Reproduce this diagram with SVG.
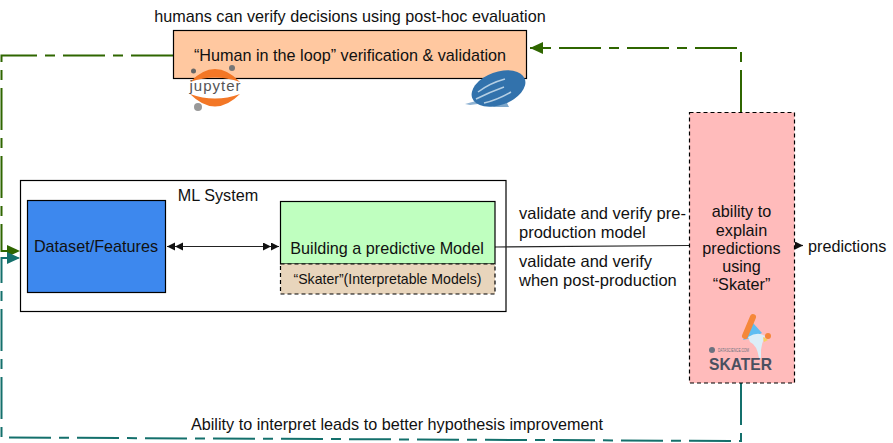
<svg xmlns="http://www.w3.org/2000/svg" width="893" height="443" viewBox="0 0 893 443">
<style>
text{font-family:"Liberation Sans",Arial,sans-serif;fill:#111;font-size:16.2px}
.m{text-anchor:middle}
.v{font-size:16.500px}
.box{stroke:#000;stroke-width:1.2}
.dash{stroke:#000;stroke-width:1.2;stroke-dasharray:4 3}
.g{fill:none;stroke:#2f6600;stroke-width:2;stroke-dasharray:42 8 10 8}
.t{fill:none;stroke:#14706c;stroke-width:2;stroke-dasharray:42 8 10 8}
.k{fill:none;stroke:#222;stroke-width:1.2}
</style>
<defs>
<marker id="ag" markerUnits="userSpaceOnUse" markerWidth="14" markerHeight="12" refX="13" refY="6" orient="auto"><path d="M0 0L13 6L0 12Z" fill="#2f6600"/></marker>
<marker id="at" markerUnits="userSpaceOnUse" markerWidth="14" markerHeight="12" refX="13" refY="6" orient="auto"><path d="M0 0L13 6L0 12Z" fill="#14706c"/></marker>
<marker id="dbl" markerUnits="userSpaceOnUse" markerWidth="18" markerHeight="10" refX="16" refY="4" orient="auto-start-reverse"><path d="M0 0L8 4L0 8ZM8 0L16 4L8 8Z" fill="#111"/></marker>
<marker id="ak" markerUnits="userSpaceOnUse" markerWidth="10" markerHeight="10" refX="8" refY="4" orient="auto"><path d="M0 0L8 4L0 8Z" fill="#111"/></marker>
</defs>
<g id="ml-system"><rect x="20.500" y="180.500" width="485.500" height="131" fill="#fff" class="box"/><text x="218" y="201" class="m">ML System</text></g>
<g id="connectors">
<path d="M173 55.500H1.500V251H20" class="g" marker-end="url(#ag)"/>
<path d="M741 112V48H530" class="g" marker-end="url(#ag)"/>
<path d="M741 383V441L1.500 437.500V258H20" class="t" marker-end="url(#at)"/>
<path d="M167 246.500H279" class="k" marker-start="url(#dbl)" marker-end="url(#dbl)"/>
<path d="M495 247L689 245.500" class="k"/>
<path d="M794 245.500H803" class="k" marker-end="url(#ak)"/>
</g>
<g id="verification"><rect x="173.500" y="30.500" width="353" height="48" fill="#FFC8A0" class="box"/><text x="350" y="61" class="m">“Human in the loop” verification &amp; validation</text></g>
<text x="350" y="22" class="m">humans can verify decisions using post-hoc evaluation</text>
<g id="jupyter-logo">
<path d="M190 82Q215 56 240 82Q215 73 190 82Z" fill="#F37726"/>
<path d="M190 94Q215 119 240 94Q215 103 190 94Z" fill="#F37726"/>
<circle cx="193.500" cy="71" r="2.500" fill="#666"/><circle cx="232" cy="68" r="3" fill="#777"/><circle cx="198" cy="107" r="4" fill="#999"/>
<text x="215.500" y="91" class="m" style="font-size:15px;fill:#555;letter-spacing:1px">jupyter</text>
</g>
<g id="zeppelin-logo">
<path d="M465 104L476 101L478 104L470 105Z" fill="#8fb3d3"/>
<path d="M474 86L480 82L478 90Z" fill="#8fb3d3"/>
<path d="M490 105L507 103L509 107H494Z" fill="#7fa8cb"/>
<ellipse cx="498.500" cy="88.500" rx="28" ry="16.500" transform="rotate(-20 498.500 88.500)" fill="#3272AC"/>
<path d="M478 92Q490 83 505 79M476 99Q490 92 504 87M484 103Q497 100 511 92" stroke="#b5cfe4" stroke-width="1.500" fill="none"/>
</g>
<g id="dataset"><rect x="27.500" y="200.500" width="138" height="92" fill="#3D88EE" class="box"/><text x="96" y="252" class="m">Dataset/Features</text></g>
<g id="model"><rect x="280.500" y="201.500" width="214.500" height="62.500" fill="#BFFFBF" class="box"/><text x="387" y="254" class="m">Building a predictive Model</text></g>
<g id="skater-models"><rect x="280.500" y="264" width="214.500" height="30" fill="#E8D5BC" class="dash"/><text x="387.500" y="284" class="m" style="font-size:14.100px">“Skater”(Interpretable Models)</text></g>
<g id="explain"><rect x="689.500" y="112.500" width="105" height="270.500" fill="#FFBBBB" class="dash"/>
<text class="m" x="741.500" y="217">ability to</text><text class="m" x="741.500" y="236">explain</text><text class="m" x="741.500" y="254">predictions</text><text class="m" x="741.500" y="271.500">using</text><text class="m" x="741.500" y="290">“Skater”</text></g>
<g id="skater-logo">
<path d="M762 333L753 323L743 340L752 338Z" fill="#5FBDF2"/>
<path d="M748 337Q758 331 765 336Q762 342 761 350L761 358L759 358Q757 345 750 342Z" fill="#DCEEF8"/>
<path d="M753 317L745 336" stroke="#F5873A" stroke-width="6" stroke-linecap="round"/>
<circle cx="768" cy="336" r="3" fill="#F5873A"/>
<path d="M763 337L768 340L764 342Z" fill="#F4D35E"/>
<circle cx="712" cy="350" r="3" fill="#6b7280"/>
<text x="718" y="352" textLength="31" lengthAdjust="spacingAndGlyphs" style="font-size:5px;fill:#6b7280">DATASCIENCE.COM</text>
<text x="709" y="370" textLength="63" lengthAdjust="spacingAndGlyphs" style="font-size:16.700px;fill:#4A5060;font-weight:bold">SKATER</text>
</g>
<g id="labels">
<text class="v" x="519" y="219">validate and verify pre-</text><text class="v" x="519" y="238">production model</text>
<text class="v" x="519" y="267">validate and verify</text><text class="v" x="519" y="286">when post-production</text>
<text x="808" y="251.500">predictions</text>
<text x="397" y="430" class="m">Ability to interpret leads to better hypothesis improvement</text>
</g>
</svg>
